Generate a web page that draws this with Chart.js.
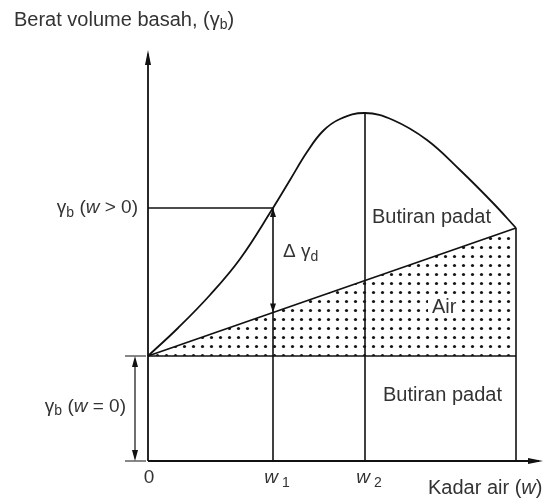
<!DOCTYPE html>
<html>
<head>
<meta charset="UTF-8">
<title>Berat volume basah</title>
<script src="https://cdn.jsdelivr.net/npm/chart.js@4.4.1/dist/chart.umd.min.js"></script>
<style>
  body { margin: 0; background: #fff; }
  #wrap { width: 545px; height: 499px; position: relative; }
</style>
</head>
<body>
<div id="wrap"><canvas id="myChart"></canvas></div>

<script>
  // kurva berat volume basah (gamma_b) terhadap kadar air (w)
  var curveW     = [0, 3, 6.2, 9.2, 12.5, 14.2, 15.9, 17.5, 19.2, 21.7, 24.5, 27.9, 31.2, 34.5, 36.8];
  var curveGamma = [10.5, 13.3, 16.6, 20.2, 25.3, 28.1, 30.9, 33.0, 34.2, 34.8, 34.1, 32.1, 29.1, 25.8, 23.3];

  // titik penting: w = 0, w1, w2, ujung kurva
  var iW1 = 4, iW2 = 9, iEnd = curveW.length - 1;
  var w1 = curveW[iW1], w2 = curveW[iW2], wEnd = curveW[iEnd];
  var gamma0 = curveGamma[0], gammaW1 = curveGamma[iW1], gammaW2 = curveGamma[iW2], gammaEnd = curveGamma[iEnd];

  // label sumbu x
  var tickW    = [0, w1, w2];
  var tickMain = ['0', 'w', 'w'];
  var tickSub  = ['', ' 1', ' 2'];

  var xMax = 39.5, yMax = 41.1;

  var FONT = '"Liberation Sans", Arial, sans-serif';
  var INK = '#111';
  var TXT = '#333';

  // pola titik-titik untuk daerah air
  function dotPattern() {
    var c = document.createElement('canvas');
    c.width = 9; c.height = 9;
    var g = c.getContext('2d');
    g.fillStyle = '#151515';
    g.beginPath();
    g.arc(4.5, 4.5, 1.6, 0, Math.PI * 2);
    g.fill();
    return g.createPattern(c, 'repeat');
  }

  function pts(xs, ys) {
    return xs.map(function (x, i) { return { x: x, y: ys[i] }; });
  }

  function seg(x0, y0, x1, y1) {
    return {
      data: [{ x: x0, y: y0 }, { x: x1, y: y1 }],
      borderColor: INK, borderWidth: 1.6, pointRadius: 0, fill: false, clip: false
    };
  }

  // teks dengan subskrip / miring: parts = [[teks, 'n'|'i'|'s'], ...]
  function partFont(kind, size) {
    if (kind === 's') return Math.round(size * 0.72) + 'px ' + FONT;
    if (kind === 'i') return 'italic ' + size + 'px ' + FONT;
    return size + 'px ' + FONT;
  }
  function drawRich(ctx, parts, x, y, size, align) {
    var total = 0;
    parts.forEach(function (p) { ctx.font = partFont(p[1], size); total += ctx.measureText(p[0]).width; });
    var cx = align === 'right' ? x - total : (align === 'center' ? x - total / 2 : x);
    ctx.textBaseline = 'middle';
    ctx.textAlign = 'left';
    parts.forEach(function (p) {
      ctx.font = partFont(p[1], size);
      ctx.fillText(p[0], cx, p[1] === 's' ? y + size * 0.25 : y);
      cx += ctx.measureText(p[0]).width;
    });
  }

  function arrowHead(ctx, x, y, dir, len, half) {
    ctx.beginPath();
    if (dir === 'up') { ctx.moveTo(x, y); ctx.lineTo(x - half, y + len); ctx.lineTo(x + half, y + len); }
    if (dir === 'down') { ctx.moveTo(x, y); ctx.lineTo(x - half, y - len); ctx.lineTo(x + half, y - len); }
    if (dir === 'right') { ctx.moveTo(x, y); ctx.lineTo(x - len, y - half); ctx.lineTo(x - len, y + half); }
    ctx.closePath();
    ctx.fill();
  }

  var diagram = {
    id: 'diagram',
    afterDatasetsDraw: function (chart) {
      var ctx = chart.ctx, sx = chart.scales.x, sy = chart.scales.y;
      var X = function (v) { return sx.getPixelForValue(v); };
      var Y = function (v) { return sy.getPixelForValue(v); };
      ctx.save();
      ctx.strokeStyle = INK; ctx.fillStyle = INK; ctx.lineWidth = 1.8;

      // sumbu
      ctx.beginPath();
      ctx.moveTo(X(0), Y(0)); ctx.lineTo(X(0), Y(yMax) + 4);
      ctx.moveTo(X(0), Y(0)); ctx.lineTo(X(xMax) - 4, Y(0));
      ctx.stroke();
      arrowHead(ctx, X(0), Y(yMax), 'up', 15, 3);
      arrowHead(ctx, X(xMax), Y(0), 'right', 15, 3);

      // panah delta gamma_d pada w1
      var lineW1 = gamma0 + (gammaEnd - gamma0) * w1 / wEnd;
      ctx.lineWidth = 1.2;
      arrowHead(ctx, X(w1), Y(gammaW1), 'up', 9, 3);
      arrowHead(ctx, X(w1), Y(lineW1), 'down', 9, 3);

      // panah gamma_b (w = 0)
      var ax = X(0) - 13;
      ctx.beginPath();
      ctx.moveTo(X(0) - 23, Y(gamma0)); ctx.lineTo(X(0) - 2, Y(gamma0));
      ctx.moveTo(X(0) - 23, Y(0)); ctx.lineTo(X(0) - 2, Y(0));
      ctx.moveTo(ax, Y(gamma0) + 4); ctx.lineTo(ax, Y(0) - 4);
      ctx.stroke();
      arrowHead(ctx, ax, Y(gamma0), 'up', 11, 3);
      arrowHead(ctx, ax, Y(0), 'down', 11, 3);

      // latar putih untuk label Air
      ctx.fillStyle = '#fff';
      ctx.fillRect(X(28.0), Y(16.5), 34, 22);

      ctx.fillStyle = TXT;
      drawRich(ctx, [['Berat volume basah, (', 'n'], ['\u03b3', 'n'], ['b', 's'], [')', 'n']], 14, 20, 20, 'left');
      drawRich(ctx, [['\u03b3', 'n'], ['b', 's'], [' (', 'n'], ['w', 'i'], [' > 0)', 'n']], X(0) - 10, Y(gammaW1), 19, 'right');
      drawRich(ctx, [['\u03b3', 'n'], ['b', 's'], [' (', 'n'], ['w', 'i'], [' = 0)', 'n']], X(0) - 22, Y(gamma0 / 2) - 2, 19, 'right');
      drawRich(ctx, [['\u0394 \u03b3', 'n'], ['d', 's']], X(w1) + 10, Y(20.9), 19, 'left');
      drawRich(ctx, [['Butiran padat', 'n']], X(22.4), Y(24.4), 20, 'left');
      drawRich(ctx, [['Air', 'n']], X(28.4), Y(15.4), 20, 'left');
      drawRich(ctx, [['Butiran padat', 'n']], X(23.5), Y(6.6), 20, 'left');
      drawRich(ctx, [['Kadar air (', 'n'], ['w', 'i'], [')', 'n']], 428, Y(0) + 27, 20, 'left');

      tickW.forEach(function (v, i) {
        drawRich(ctx, [[tickMain[i], i === 0 ? 'n' : 'i'], [tickSub[i], 's']], X(v) + (i === 0 ? 1 : 4), Y(0) + 17, 19, 'center');
      });
      ctx.restore();
    }
  };

  var ctx = document.getElementById('myChart').getContext('2d');
  new Chart(ctx, {
    type: 'line',
    data: {
      datasets: [
        { // kurva gamma_b
          data: pts(curveW, curveGamma),
          borderColor: INK, borderWidth: 1.8, pointRadius: 0,
          tension: 0.4, fill: false, clip: false
        },
        { // garis miring batas air / butiran, diarsir sampai garis dasar
          data: [{ x: 0, y: gamma0 }, { x: wEnd, y: gammaEnd }],
          borderColor: INK, borderWidth: 1.8, pointRadius: 0,
          fill: 2, backgroundColor: dotPattern(), clip: false
        },
        seg(0, gamma0, wEnd, gamma0),
        seg(0, gammaW1, w1, gammaW1),
        seg(w1, 0, w1, gammaW1),
        seg(w2, 0, w2, gammaW2),
        seg(wEnd, 0, wEnd, gammaEnd)
      ]
    },
    options: {
      responsive: true,
      maintainAspectRatio: false,
      animation: false,
      layout: { padding: { left: 148, right: 2, top: 50, bottom: 38 } },
      scales: {
        x: { type: 'linear', min: 0, max: xMax, display: false },
        y: { type: 'linear', min: 0, max: yMax, display: false }
      },
      plugins: { legend: { display: false }, tooltip: { enabled: false } }
    },
    plugins: [diagram]
  });
</script>
</body>
</html>
